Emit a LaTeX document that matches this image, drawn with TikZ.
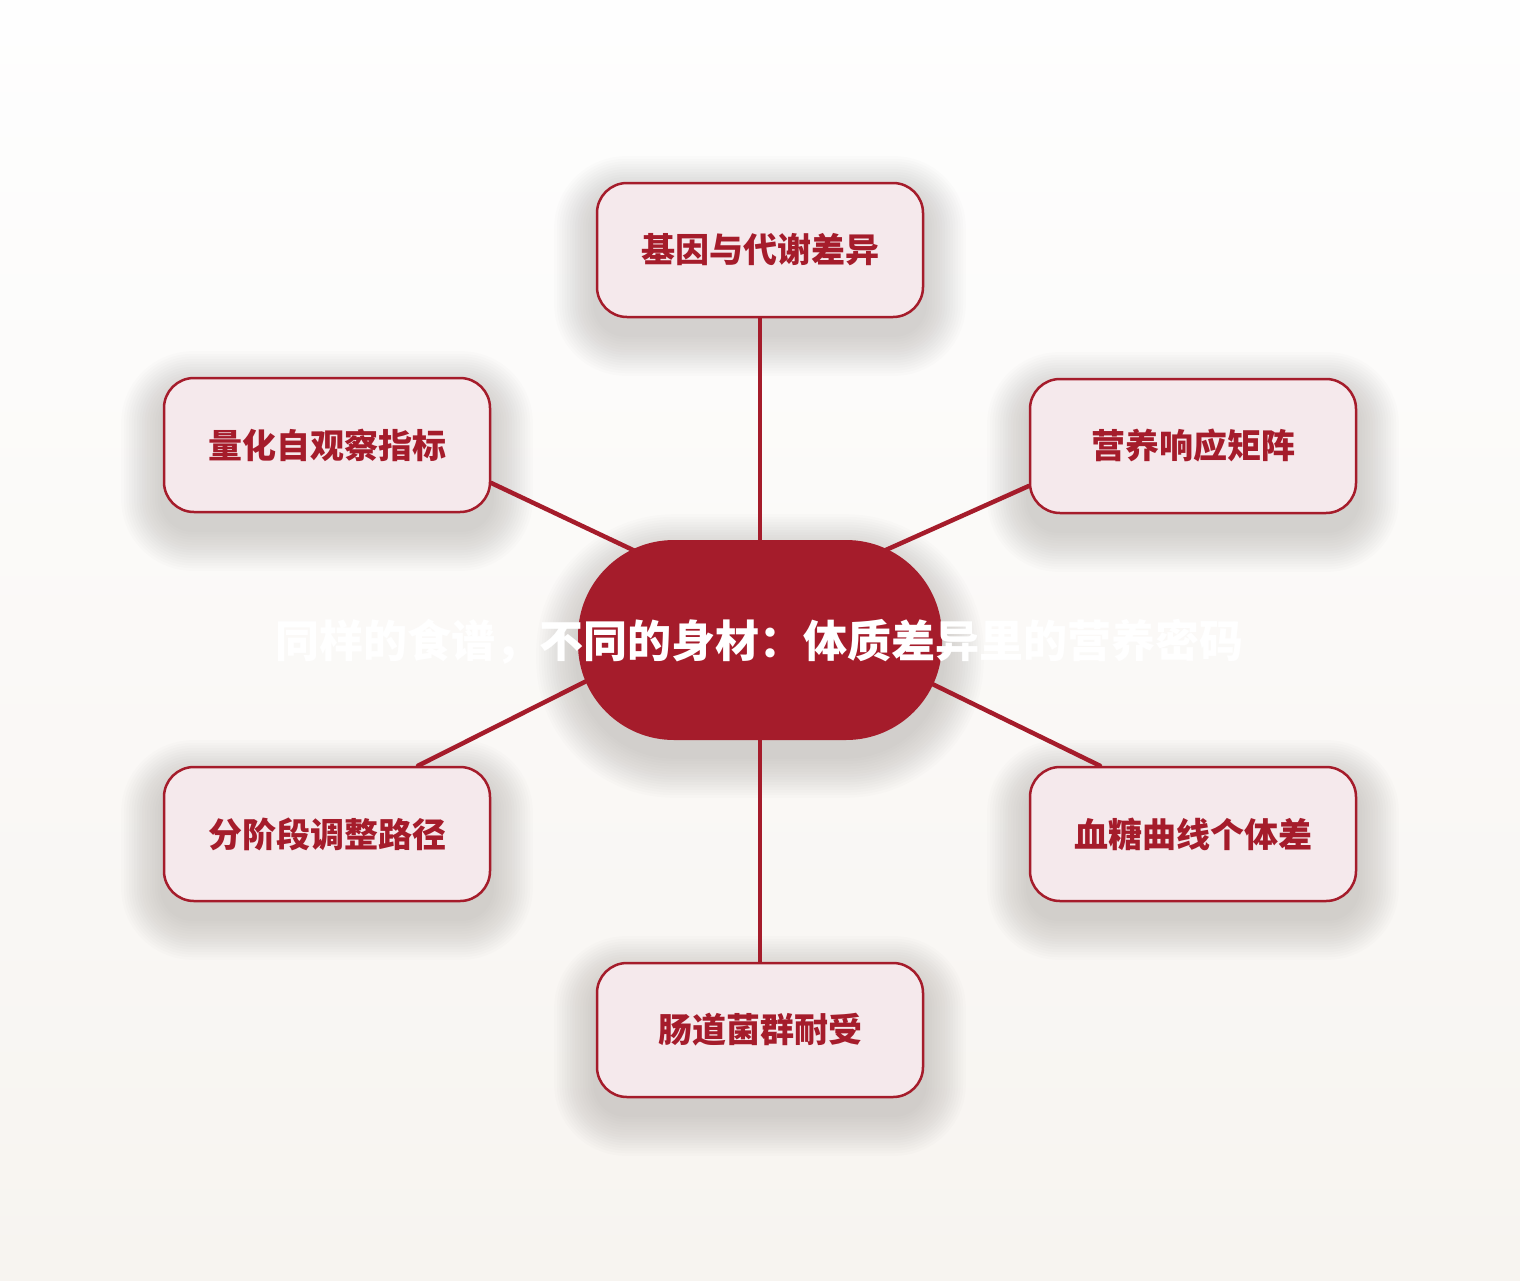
\documentclass[tikz,border=0pt]{standalone}
\usepackage{fontspec}
\newfontfamily\cjk{Noto Sans CJK SC}
\usetikzlibrary{backgrounds}
\definecolor{mainred}{HTML}{A51C2B}
\definecolor{boxfill}{HTML}{F5E9EC}
\definecolor{bgtop}{HTML}{FEFEFE}
\definecolor{bgbot}{HTML}{F7F4F0}
\definecolor{shadowcol}{HTML}{3A3530}
\tikzset{
  leaf/.style={draw=mainred, line width=2.5pt, fill=boxfill, rounded corners=30pt,
    minimum width=326pt, minimum height=134pt, inner sep=0pt,
    font=\cjk\bfseries\fontsize{34pt}{40pt}\selectfont, text=mainred},
  hub/.style={fill=mainred, rounded corners=96pt, minimum width=364pt, minimum height=200pt, inner sep=0pt},
  hubtext/.style={font=\cjk\bfseries\fontsize{44pt}{50pt}\selectfont, text=white, inner sep=0pt},
  conn/.style={draw=mainred, line width=4.5pt, line cap=round, shorten >=-45pt},
  shadowlayer/.style={fill=shadowcol, opacity=0.012}
}
\newcommand\softshadow[2]{%
  \foreach \i in {1,...,16}{%
    \pgfmathsetmacro\s{\i*2.6}%
    \pgfmathsetmacro\rr{#2+\s}%
    \fill[shadowlayer, rounded corners=\rr pt]
      ([shift={(-\s pt,-16pt-\s pt)}]#1.south west) rectangle ([shift={(\s pt,-16pt+\s pt)}]#1.north east);
  }%
}
\begin{document}
\begin{tikzpicture}[x=1pt,y=-1pt]
\useasboundingbox (0,0) rectangle (1520,1280);
\node[hub] (c) at (760,640) {};
\node[leaf] (t) at (760,250) {基因与代谢差异};
\node[leaf] (lt) at (327,445) {量化自观察指标};
\node[leaf] (rt) at (1193,446) {营养响应矩阵};
\node[leaf] (lb) at (327,834) {分阶段调整路径};
\node[leaf] (rb) at (1193,834) {血糖曲线个体差};
\node[leaf] (b) at (760,1030) {肠道菌群耐受};
\begin{scope}[on background layer]
\shade[top color=bgtop, bottom color=bgbot] (0,0) rectangle (1520,1280);
\softshadow{c}{96}
\softshadow{t}{30}
\softshadow{lt}{30}
\softshadow{rt}{30}
\softshadow{lb}{30}
\softshadow{rb}{30}
\softshadow{b}{30}
\draw[conn] (t.south) -- (c.north);
\draw[conn] ([yshift=-38pt]lt.east) -- (c.146);
\draw[conn] ([yshift=-40pt]rt.west) -- (c.34);
\draw[conn] ([xshift=91pt]lb.north) -- (c.194);
\draw[conn] ([xshift=-93pt]rb.north) -- (c.345);
\draw[conn] (b.north) -- (c.south);
\end{scope}
\node[hubtext] (ct) at (759,642) {同样的食谱，不同的身材：体质差异里的营养密码};
\end{tikzpicture}
\end{document}
